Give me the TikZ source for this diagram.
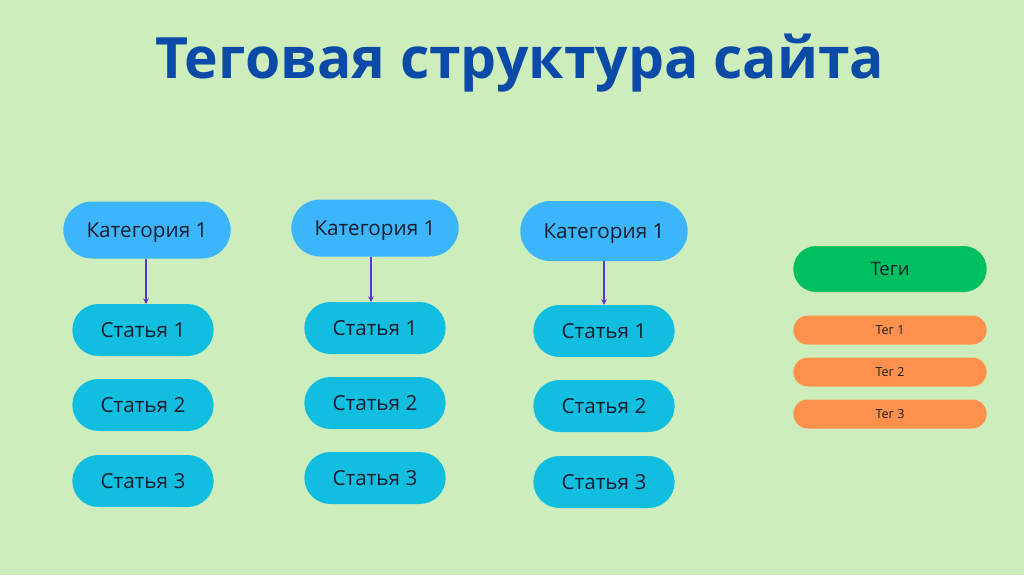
\documentclass[tikz,border=0pt]{standalone}
\usepackage{fontspec}
\setmainfont{Open Sans}
\usetikzlibrary{arrows.meta,shapes,calc}

\definecolor{bgcol}{RGB}{205,238,188}
\definecolor{catcol}{RGB}{61,181,251}
\definecolor{artcol}{RGB}{18,190,224}
\definecolor{tagscol}{RGB}{0,191,96}
\definecolor{tagcol}{RGB}{255,145,77}
\definecolor{titlecol}{RGB}{12,74,168}
\definecolor{arrcol}{RGB}{94,50,214}
\definecolor{txtcol}{RGB}{20,28,45}

\begin{document}
\begin{tikzpicture}[x=1pt,y=-1pt,
    box/.style={rounded rectangle, text=txtcol, text depth=0pt},
    cat/.style={box, fill=catcol, minimum width=174pt, minimum height=57pt, text height=14.8pt, font=\fontsize{20.7}{24}\selectfont},
    art/.style={box, fill=artcol, minimum width=148pt, minimum height=52pt, text height=14.8pt, font=\fontsize{20.7}{24}\selectfont},
    tags/.style={box, fill=tagscol, minimum width=200pt, minimum height=46pt, text height=13.2pt, font=\fontsize{18.5}{22}\selectfont},
    tag/.style={box, fill=tagcol, minimum width=200pt, minimum height=29pt, text height=8.9pt, font=\fontsize{12.5}{14}\selectfont},
    link/.style={draw=arrcol, line width=1.5pt, -{Stealth[length=5.5pt,width=5.5pt]}}]
  \fill[bgcol] (0,0) rectangle (1024,575);
  \useasboundingbox (0,0) rectangle (1024,575);

  \path (520,63) node[text=titlecol, font=\fontsize{57}{62}\selectfont\bfseries](title){Теговая структура сайта}
        % first column
        (147,230) node[cat](cat1){Категория 1}
        (143,330) node[art](art11){Статья 1}
        (143,405) node[art](art12){Статья 2}
        (143,481) node[art](art13){Статья 3}
        % second column
        (375,228) node[cat](cat2){Категория 1}
        (375,328) node[art](art21){Статья 1}
        (375,403) node[art](art22){Статья 2}
        (375,478) node[art](art23){Статья 3}
        % third column
        (604,231) node[cat, minimum height=60pt](cat3){Категория 1}
        (604,331) node[art](art31){Статья 1}
        (604,406) node[art](art32){Статья 2}
        (604,482) node[art](art33){Статья 3}
        % tags
        (890,269) node[tags](tags){Теги}
        (890,330) node[tag](tag1){Тег 1}
        (890,372) node[tag](tag2){Тег 2}
        (890,414) node[tag](tag3){Тег 3};

  \draw[link](cat1.south -| 146,0) -- (146,304);
  \draw[link](cat2.south -| 371,0) -- (371,302);
  \draw[link](cat3.south) -- (art31.north);
\end{tikzpicture}
\end{document}
